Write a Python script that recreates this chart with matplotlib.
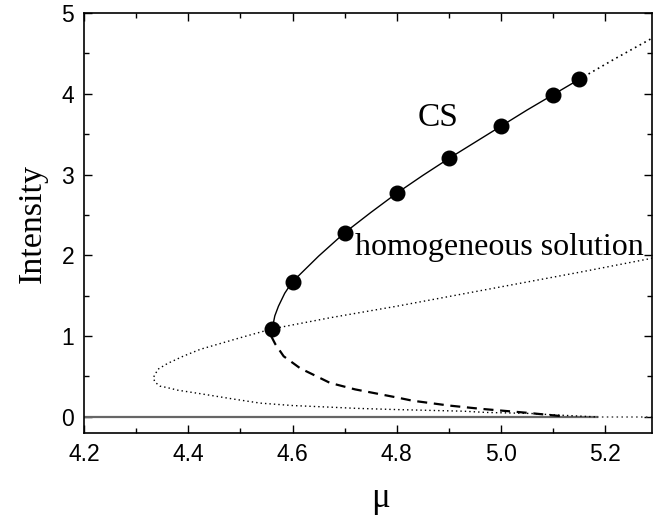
import matplotlib
matplotlib.use("Agg")
import matplotlib.pyplot as plt
from matplotlib.ticker import MultipleLocator

# CS branch (upper, stable)
cs_up_mu = [4.559, 4.561, 4.566, 4.573, 4.585, 4.599, 4.65, 4.70, 4.75, 4.80,
            4.85, 4.90, 4.95, 5.00, 5.05, 5.10, 5.15]
cs_up_I = [1.00, 1.09, 1.25, 1.37, 1.53, 1.667, 1.99, 2.28, 2.53, 2.77,
           2.99, 3.20, 3.40, 3.60, 3.80, 3.99, 4.18]
# continuation beyond last point
cs_ext_mu = [5.15, 5.22, 5.29]
cs_ext_I = [4.18, 4.44, 4.69]
# CS branch (lower, unstable)
cs_low_mu = [4.559, 4.567, 4.583, 4.615, 4.65, 4.672, 4.72, 4.80, 4.83, 4.90,
             4.96, 5.05, 5.114]
cs_low_I = [1.00, 0.90, 0.75, 0.60, 0.49, 0.42, 0.34, 0.24, 0.20, 0.14,
            0.10, 0.05, 0.01]
# simulation points
pts_mu = [4.56, 4.60, 4.70, 4.80, 4.90, 5.00, 5.10, 5.15]
pts_I = [1.09, 1.667, 2.28, 2.77, 3.20, 3.60, 3.99, 4.18]
# homogeneous solution
hom_mu = [5.18, 5.10, 5.056, 4.97, 4.928, 4.80, 4.723, 4.672, 4.60, 4.538,
          4.487, 4.42, 4.38, 4.359, 4.346, 4.336, 4.333, 4.342, 4.36, 4.39,
          4.423, 4.50, 4.561, 4.672, 4.80, 5.00, 5.15, 5.293]
hom_I = [0.0, 0.025, 0.042, 0.055, 0.07, 0.09, 0.105, 0.12, 0.14, 0.17,
         0.22, 0.29, 0.33, 0.363, 0.38, 0.43, 0.486, 0.59, 0.66, 0.75,
         0.836, 0.98, 1.09, 1.227, 1.37, 1.61, 1.79, 1.968]
# trivial solution
zero_mu = [4.2, 5.184]
zero_ext_mu = [5.184, 5.29]

serif = ['Liberation Serif', 'DejaVu Serif']
plt.rcParams['font.family'] = ['Liberation Sans', 'DejaVu Sans']

fig = plt.figure(figsize=(6.54, 5.22), dpi=100)
ax = fig.add_axes([0.1284, 0.1705, 0.869, 0.8045])

ax.plot(zero_mu, [0, 0], color='#666666', lw=1.6)
ax.plot(zero_ext_mu, [0, 0], color='#444444', lw=1.1, ls=(0, (1, 2.2)))
ax.plot(hom_mu, hom_I, color='black', lw=1.0, ls=(0, (1, 2.2)))
ax.plot(cs_up_mu, cs_up_I, color='black', lw=1.0)
ax.plot(cs_ext_mu, cs_ext_I, color='black', lw=1.2, ls=(0, (1, 2.2)))
ax.plot(cs_low_mu, cs_low_I, color='black', lw=1.6, ls=(0, (4.5, 3)))
ax.plot(pts_mu, pts_I, 'o', color='black', ms=10.5, ls='none')

ax.set_xlim(4.2, 5.29)
ax.set_ylim(-0.2, 5)
ax.xaxis.set_major_locator(MultipleLocator(0.2))
ax.xaxis.set_minor_locator(MultipleLocator(0.1))
ax.yaxis.set_major_locator(MultipleLocator(1))
ax.yaxis.set_minor_locator(MultipleLocator(0.5))
ax.set_xticks([4.2, 4.4, 4.6, 4.8, 5.0, 5.2])
ax.set_xticklabels(['4.2', '4.4', '4.6', '4.8', '5.0', '5.2'])
ax.tick_params(which='both', direction='in', top=True, right=True,
               labelsize=16.5, width=1.0, pad=7)
ax.tick_params(which='major', length=6)
ax.tick_params(which='minor', length=3.5)
for s in ax.spines.values():
    s.set_linewidth(1.2)

# x label placed by hand (baseline), like the original
fig.text(380 / 654, 1 - 507 / 522, 'μ', family=serif, fontsize=25,
         ha='center', va='baseline')
ax.set_ylabel('Intensity', family=serif, fontsize=24.5, labelpad=10)

ax.text(4.839, 3.60, 'CS', family=serif, fontsize=24)
ax.text(4.72, 2.0, 'homogeneous solution', family=serif, fontsize=23)

fig.savefig('out.png', dpi=100)
